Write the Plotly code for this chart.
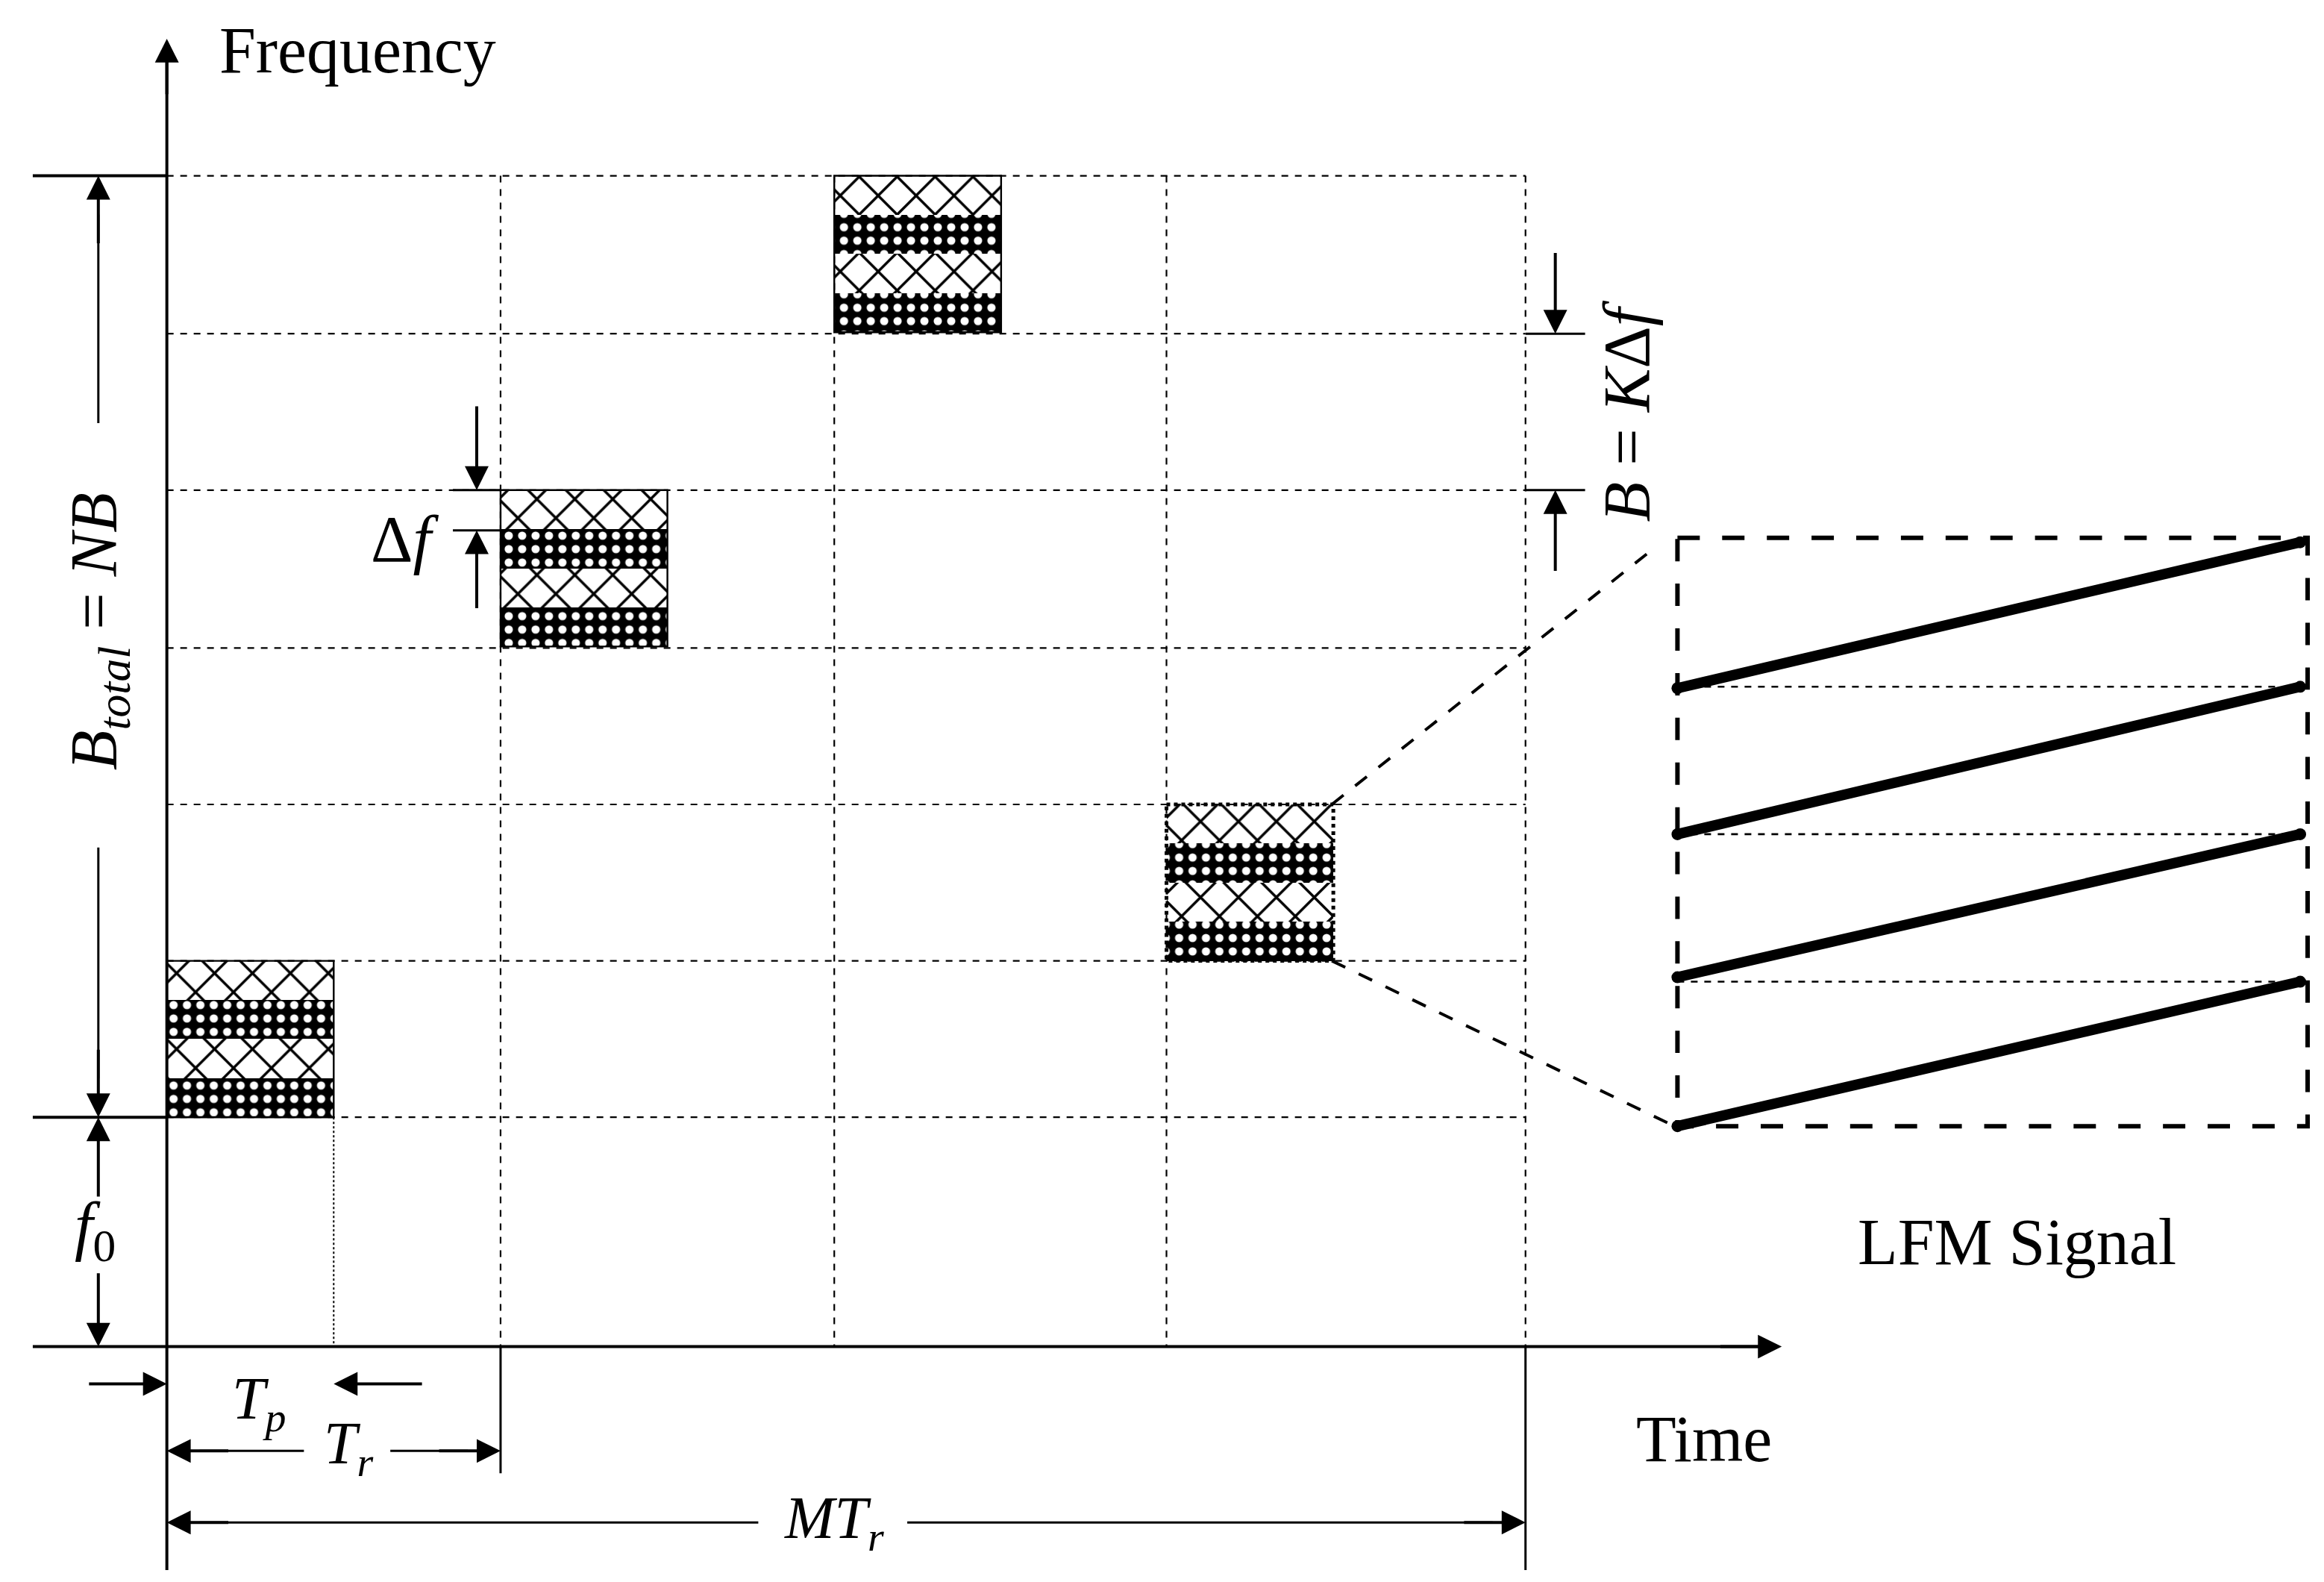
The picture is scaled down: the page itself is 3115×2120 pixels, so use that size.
import plotly.graph_objects as go

W, H = 1560, 1062
S = 3115 / 1560
grid_y = [114, 220, 325, 431, 536, 641, 746]
grid_x = [108, 332, 556, 779, 1020]
blocks_x = [108, 332, 556, 779]      # left edge of each pulse block
blocks_top = [641, 325, 114, 536]    # top of each pulse block
block_w = 112
band_h = 105 / 4
lfm_left = [458, 556, 652, 752]
lfm_right = [360, 457, 556, 655]

fig = go.Figure()
for bx, bt in zip(blocks_x, blocks_top):
    for k in range(4):
        if k % 2 == 0:
            pat = dict(shape="x", fgcolor="black", bgcolor="white", size=18 * S, solidity=0.18, fillmode="replace")
        else:
            pat = dict(shape=".", fgcolor="white", bgcolor="black", size=9 * S, solidity=0.3, fillmode="replace")
        fig.add_trace(go.Bar(x=[bx + block_w / 2], y=[band_h], base=[bt + k * band_h], width=[block_w],
                             marker=dict(color="white", pattern=pat, line=dict(width=0)), showlegend=False,
                             hoverinfo="skip"))

shapes = []
def ln(x0, y0, x1, y1, w=1.5, dash="solid"):
    shapes.append(dict(type="line", x0=x0, y0=y0, x1=x1, y1=y1, line=dict(color="black", width=w * S, dash=dash)))

for y in grid_y:
    ln(108, y, 1020, y, 1.1, "dash")
for x in grid_x[1:]:
    ln(x, 114, x, 900, 1.1, "dash")
ln(220, 746, 220, 900, 1, "dot")
ln(18, 114, 108, 114, 2)
ln(18, 746, 108, 746, 2)
ln(108, 1050, 108, 30, 2)
ln(18, 900, 1180, 900, 2)
ln(332, 900, 332, 985, 1.5)
ln(1020, 900, 1020, 1050, 1.5)
for bx, bt in zip(blocks_x[:3], blocks_top[:3]):
    shapes.append(dict(type="rect", x0=bx, x1=bx + block_w, y0=bt, y1=bt + 105, line=dict(color="black", width=1.2 * S)))
shapes.append(dict(type="rect", x0=779, x1=891, y0=536, y1=641, line=dict(color="black", width=2.5 * S, dash="dot")))
ln(300, 325, 332, 325, 1.5); ln(300, 352, 332, 352, 1.5)
ln(1020, 220, 1060, 220, 1.5); ln(1020, 325, 1060, 325, 1.5)
ln(62, 140, 62, 280, 1.5); ln(62, 565, 62, 720, 1.5)
ln(130, 970, 200, 970, 1.5); ln(258, 970, 310, 970, 1.5)
ln(130, 1018, 505, 1018, 1.5); ln(605, 1018, 998, 1018, 1.5)
shapes.append(dict(type="rect", x0=1122, x1=1545, y0=357, y1=752, line=dict(color="black", width=3 * S, dash="longdash")))
ln(890, 536, 1105, 365, 2, "longdash"); ln(890, 641, 1120, 752, 2, "longdash")
for yl, yr in zip(lfm_left, lfm_right):
    ln(1122, yl, 1540, yr, 7)
for y in lfm_right[1:]:
    ln(1122, y, 1540, y, 1.3, "dash")
fig.add_trace(go.Scatter(x=[1122] * 4 + [1540] * 4, y=lfm_left + lfm_right, mode="markers",
                         marker=dict(color="black", size=8 * S), showlegend=False, hoverinfo="skip"))

ann = []
def arr(x, y, ax, ay):
    ann.append(dict(x=x, y=y, ax=ax, ay=ay, xref="x", yref="y", axref="x", ayref="y", text="",
                    showarrow=True, arrowhead=2, arrowsize=1.6, arrowwidth=2 * S, arrowcolor="black"))
arr(108, 22, 108, 60); arr(1192, 900, 1150, 900)
arr(62, 114, 62, 160); arr(62, 746, 62, 700)
arr(62, 746, 62, 800); arr(62, 900, 62, 850)
arr(108, 925, 55, 925); arr(220, 925, 280, 925)
arr(108, 970, 150, 970); arr(332, 970, 290, 970)
arr(108, 1018, 150, 1018); arr(1020, 1018, 978, 1018)
arr(316, 325, 316, 268); arr(316, 352, 316, 405)
arr(1040, 220, 1040, 165); arr(1040, 325, 1040, 380)

F = "Liberation Serif"
def txt(x, y, t, sz, ang=0, xa="center"):
    ann.append(dict(x=x, y=y, xref="x", yref="y", text=t, showarrow=False, textangle=ang, xanchor=xa,
                    font=dict(family=F, size=sz * S, color="black")))
txt(142, 30, "Frequency", 44, xa="left")
txt(1140, 962, "Time", 44)
txt(1350, 830, "LFM Signal", 44)
txt(62, 420, "<i>B</i><sub><i>total</i></sub> = <i>NB</i>", 44, -90)
txt(60, 822, "<i>f</i><sub>0</sub>", 44)
txt(170, 938, "<i>T</i><sub><i>p</i></sub>", 40)
txt(230, 968, "<i>T</i><sub><i>r</i></sub>", 40)
txt(556, 1018, "<i>MT</i><sub><i>r</i></sub>", 40)
txt(268, 358, "Δ<i>f</i>", 44)
txt(1088, 272, "<i>B</i> = <i>K</i>Δ<i>f</i>", 44, -90)

fig.update_layout(width=3115, height=2120, margin=dict(l=0, r=0, t=0, b=0), plot_bgcolor="white",
                  paper_bgcolor="white", shapes=shapes, annotations=ann, bargap=0, barmode="overlay",
                  xaxis=dict(range=[0, W], visible=False), yaxis=dict(range=[H, 0], visible=False))
fig.write_html("out.html")
